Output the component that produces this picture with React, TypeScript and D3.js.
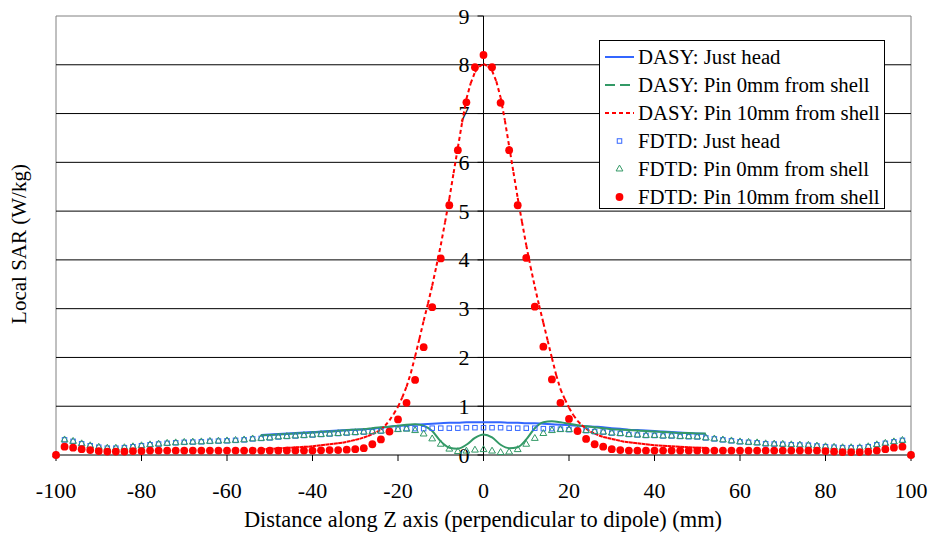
import React from "react";
import * as d3 from "d3";

// ---------- data ----------
const FDTD_X0 = -100;
const FDTD_STEP = 2;
const DASY_X0 = -52;
const DASY_STEP = 2;
const DASY10_X0 = -52;
const DASY10_STEP = 1;

const fdtdHead = [
  0.00, 0.31, 0.28, 0.23, 0.19, 0.16, 0.14, 0.14, 0.15, 0.17,
  0.19, 0.21, 0.225, 0.24, 0.25, 0.26, 0.265, 0.27, 0.28, 0.285,
  0.29, 0.30, 0.31, 0.33, 0.34, 0.35, 0.37, 0.38, 0.39, 0.40,
  0.41, 0.42, 0.43, 0.44, 0.45, 0.46, 0.47, 0.48, 0.49, 0.50,
  0.53, 0.54, 0.54, 0.54, 0.55, 0.55, 0.55, 0.55, 0.56, 0.56,
  0.56, 0.56, 0.56, 0.55, 0.55, 0.55, 0.55, 0.54, 0.54, 0.53,
  0.52, 0.51, 0.50, 0.48, 0.47, 0.45, 0.44, 0.42, 0.41, 0.40,
  0.40, 0.39, 0.39, 0.38, 0.375, 0.37, 0.35, 0.33, 0.31, 0.29,
  0.27, 0.26, 0.25, 0.23, 0.225, 0.22, 0.21, 0.205, 0.20, 0.185,
  0.17, 0.16, 0.15, 0.15, 0.15, 0.17, 0.21, 0.24, 0.27, 0.30,
  0.00,
];

const fdtdPin0 = [
  0.00, 0.31, 0.28, 0.23, 0.19, 0.16, 0.14, 0.14, 0.15, 0.17,
  0.19, 0.21, 0.225, 0.24, 0.25, 0.26, 0.265, 0.27, 0.28, 0.285,
  0.29, 0.30, 0.31, 0.33, 0.34, 0.35, 0.37, 0.38, 0.39, 0.40,
  0.41, 0.42, 0.43, 0.44, 0.45, 0.46, 0.47, 0.48, 0.49, 0.50,
  0.52, 0.53, 0.50, 0.43, 0.33, 0.22, 0.12, 0.07, 0.08, 0.10,
  0.11, 0.08, 0.05, 0.06, 0.11, 0.22, 0.34, 0.44, 0.50, 0.52,
  0.52, 0.51, 0.50, 0.48, 0.47, 0.45, 0.44, 0.42, 0.41, 0.40,
  0.40, 0.39, 0.39, 0.38, 0.375, 0.37, 0.35, 0.33, 0.31, 0.29,
  0.27, 0.26, 0.25, 0.23, 0.225, 0.22, 0.21, 0.205, 0.20, 0.185,
  0.17, 0.16, 0.15, 0.15, 0.15, 0.17, 0.21, 0.24, 0.27, 0.30,
  0.00,
];

const fdtdPin10 = [
  0.00, 0.17, 0.15, 0.12, 0.10, 0.08, 0.07, 0.07, 0.07, 0.08,
  0.08, 0.09, 0.09, 0.09, 0.09, 0.09, 0.09, 0.09, 0.09, 0.09,
  0.09, 0.09, 0.09, 0.09, 0.09, 0.09, 0.09, 0.09, 0.09, 0.09,
  0.09, 0.095, 0.10, 0.10, 0.11, 0.12, 0.14, 0.22, 0.32, 0.48,
  0.73, 1.07, 1.54, 2.21, 3.03, 4.03, 5.12, 6.25, 7.23, 7.95,
  8.20, 7.95, 7.22, 6.25, 5.12, 4.04, 3.04, 2.22, 1.55, 1.07,
  0.74, 0.49, 0.33, 0.22, 0.17, 0.12, 0.10, 0.09, 0.09, 0.09,
  0.09, 0.09, 0.09, 0.09, 0.09, 0.09, 0.09, 0.09, 0.09, 0.09,
  0.09, 0.09, 0.09, 0.09, 0.09, 0.09, 0.09, 0.09, 0.09, 0.09,
  0.08, 0.07, 0.06, 0.06, 0.06, 0.07, 0.09, 0.12, 0.15, 0.17,
  0.00,
];

const dasyHead = [
  0.41, 0.42, 0.43, 0.44, 0.45, 0.46, 0.47, 0.48, 0.49, 0.50,
  0.51, 0.52, 0.53, 0.54, 0.56, 0.58, 0.60, 0.61, 0.62, 0.63,
  0.64, 0.65, 0.66, 0.66, 0.67, 0.67, 0.67, 0.67, 0.67, 0.66,
  0.66, 0.65, 0.65, 0.64, 0.63, 0.62, 0.61, 0.60, 0.59, 0.58,
  0.57, 0.55, 0.54, 0.52, 0.51, 0.50, 0.49, 0.48, 0.47, 0.46,
  0.45, 0.44, 0.43,
];

const dasyPin0 = [
  0.40, 0.41, 0.42, 0.43, 0.44, 0.45, 0.46, 0.47, 0.48, 0.49,
  0.51, 0.52, 0.53, 0.55, 0.57, 0.58, 0.60, 0.62, 0.63, 0.60,
  0.49, 0.28, 0.15, 0.13, 0.21, 0.35, 0.42, 0.36, 0.21, 0.14,
  0.16, 0.32, 0.55, 0.67, 0.69, 0.67, 0.64, 0.61, 0.59, 0.57,
  0.55, 0.53, 0.52, 0.51, 0.50, 0.49, 0.48, 0.47, 0.46, 0.45,
  0.45, 0.44, 0.44,
];

const dasyPin10 = [
  0.12, 0.12, 0.13, 0.13, 0.14, 0.14, 0.15, 0.15, 0.16, 0.16,
  0.17, 0.17, 0.18, 0.19, 0.20, 0.21, 0.22, 0.23, 0.24, 0.25,
  0.27, 0.29, 0.31, 0.33, 0.36, 0.39, 0.43, 0.47, 0.52, 0.60,
  0.71, 0.84, 0.99, 1.18, 1.40, 1.68, 2.02, 2.38, 2.75, 3.10,
  3.47, 3.88, 4.30, 4.77, 5.25, 5.78, 6.30, 6.82, 7.30, 7.62,
  7.85, 7.96, 8.02, 7.97, 7.88, 7.66, 7.33, 6.86, 6.33, 5.80,
  5.27, 4.78, 4.30, 3.86, 3.45, 3.07, 2.71, 2.35, 1.99, 1.64,
  1.35, 1.15, 0.97, 0.82, 0.70, 0.61, 0.54, 0.48, 0.44, 0.40,
  0.37, 0.35, 0.33, 0.31, 0.29, 0.27, 0.26, 0.25, 0.24, 0.23,
  0.22, 0.21, 0.20, 0.195, 0.19, 0.185, 0.18, 0.175, 0.17, 0.165,
  0.16, 0.155, 0.15, 0.15, 0.145,
];

const xTicks = [-100, -80, -60, -40, -20, 0, 20, 40, 60, 80, 100];
const yTicks = [0, 1, 2, 3, 4, 5, 6, 7, 8, 9];
const legendLabels = [
  "DASY: Just head",
  "DASY: Pin 0mm from shell",
  "DASY: Pin 10mm from shell",
  "FDTD: Just head",
  "FDTD: Pin 0mm from shell",
  "FDTD: Pin 10mm from shell",
];
const xTitle = "Distance along Z axis (perpendicular to dipole) (mm)";
const yTitle = "Local SAR (W/kg)";

// ---------- styling ----------
const W = 930;
const H = 533;
const BLUE = "#3366FF";
const GREEN = "#339966";
const RED = "#FF0000";
const FONT = "'Liberation Serif', 'Times New Roman', serif";

const x = d3.scaleLinear().domain([-100, 100]).range([56, 911]);
const y = d3.scaleLinear().domain([0, 9]).range([455, 16]);

const toPts = (vals: number[], x0: number, step: number) =>
  vals.map((v, i) => ({ x: x0 + i * step, v }));

export default function App() {
  const head = toPts(dasyHead, DASY_X0, DASY_STEP);
  const pin0 = toPts(dasyPin0, DASY_X0, DASY_STEP);
  const pin10 = toPts(dasyPin10, DASY10_X0, DASY10_STEP);
  const fHead = toPts(fdtdHead, FDTD_X0, FDTD_STEP);
  const fPin0 = toPts(fdtdPin0, FDTD_X0, FDTD_STEP);
  const fPin10 = toPts(fdtdPin10, FDTD_X0, FDTD_STEP);

  const line = d3
    .line<{ x: number; v: number }>()
    .x((d) => x(d.x))
    .y((d) => y(d.v))
    .curve(d3.curveMonotoneX);

  const x0 = x(0);
  const y0 = y(0);
  const tri = d3.symbol().type(d3.symbolTriangle).size(20)()!;

  const legX = 599.5;
  const legY = 40.5;
  const legW = 285;
  const legH = 168;
  const rowY = (i: number) => 57 + i * 28;

  return (
    <svg
      width={W}
      height={H}
      style={{ position: "absolute", left: 0, top: 0, background: "#fff" }}
      fontFamily={FONT}
    >
      {/* plot frame */}
      <line x1={x(-100)} x2={x(-100)} y1={y(9)} y2={y(0)} stroke="#808080" strokeWidth={1} />
      <line x1={x(100)} x2={x(100)} y1={y(9)} y2={y(0)} stroke="#808080" strokeWidth={1} />
      {/* gridlines */}
      {yTicks.slice(1).map((t) => (
        <line key={t} x1={x(-100)} x2={x(100)} y1={y(t)} y2={y(t)} stroke={t === 9 ? "#808080" : "#000"} strokeWidth={1} />
      ))}

      {/* axes */}
      <line x1={x(-100)} x2={x(100)} y1={y0} y2={y0} stroke="#000" strokeWidth={1} />
      <line x1={x0} x2={x0} y1={y(9)} y2={y0} stroke="#000" strokeWidth={1} />
      {xTicks.map((t) => (
        <g key={t}>
          <line x1={x(t)} x2={x(t)} y1={y0} y2={y0 + 6} stroke="#000" />
          <text x={x(t)} y={497.5} textAnchor="middle" fontSize={22}>
            {t}
          </text>
        </g>
      ))}
      {yTicks.map((t) => (
        <g key={t}>
          <line x1={x0 - 6} x2={x0} y1={y(t)} y2={y(t)} stroke="#000" />
          <text x={x0 - 14} y={y(t) + 7.5} textAnchor="end" fontSize={22}>
            {t}
          </text>
        </g>
      ))}

      {/* DASY lines */}
      <path d={line(head)!} fill="none" stroke={BLUE} strokeWidth={2} />
      <path d={line(pin0)!} fill="none" stroke={GREEN} strokeWidth={2} />
      {pin10.slice(1).map((d, i) => {
        const p = pin10[i];
        return (
          <line
            key={i}
            x1={x(p.x)}
            y1={y(p.v)}
            x2={x(d.x)}
            y2={y(d.v)}
            stroke={RED}
            strokeWidth={2}
            strokeDasharray="4,3"
          />
        );
      })}

      {/* FDTD markers */}
      {fHead.map((d, i) => (
        <rect key={i} x={x(d.x) - 2.25} y={y(d.v) - 2.25} width={4.5} height={4.5} fill="none" stroke={BLUE} strokeWidth={1} />
      ))}
      {fPin0.map((d, i) => (
        <path key={i} d={tri} transform={`translate(${x(d.x)},${y(d.v)})`} fill="none" stroke={GREEN} strokeWidth={1} />
      ))}
      {fPin10.map((d, i) => (
        <circle key={i} cx={x(d.x)} cy={y(d.v)} r={3.9} fill={RED} />
      ))}

      {/* legend */}
      <rect x={legX} y={legY} width={legW} height={legH} fill="#fff" stroke="#000" strokeWidth={1} />
      {legendLabels.map((lab, i) => (
        <text key={lab} x={638} y={rowY(i) + 7} fontSize={20.8}>
          {lab}
        </text>
      ))}
      <line x1={605} x2={634} y1={rowY(0)} y2={rowY(0)} stroke={BLUE} strokeWidth={2} />
      <line x1={605} x2={634} y1={rowY(1)} y2={rowY(1)} stroke={GREEN} strokeWidth={2} strokeDasharray="10,5" />
      <line x1={605} x2={634} y1={rowY(2)} y2={rowY(2)} stroke={RED} strokeWidth={2} strokeDasharray="4,3" />
      <rect x={619.5 - 2.25} y={rowY(3) - 2.25} width={4.5} height={4.5} fill="none" stroke={BLUE} strokeWidth={1} />
      <path d={tri} transform={`translate(619.5,${rowY(4)})`} fill="none" stroke={GREEN} strokeWidth={1} />
      <circle cx={619.5} cy={rowY(5)} r={3.9} fill={RED} />

      {/* titles */}
      <text x={483} y={527} textAnchor="middle" fontSize={22.4}>
        {xTitle}
      </text>
      <text transform={`translate(26,244) rotate(-90)`} textAnchor="middle" fontSize={21}>
        {yTitle}
      </text>
    </svg>
  );
}
